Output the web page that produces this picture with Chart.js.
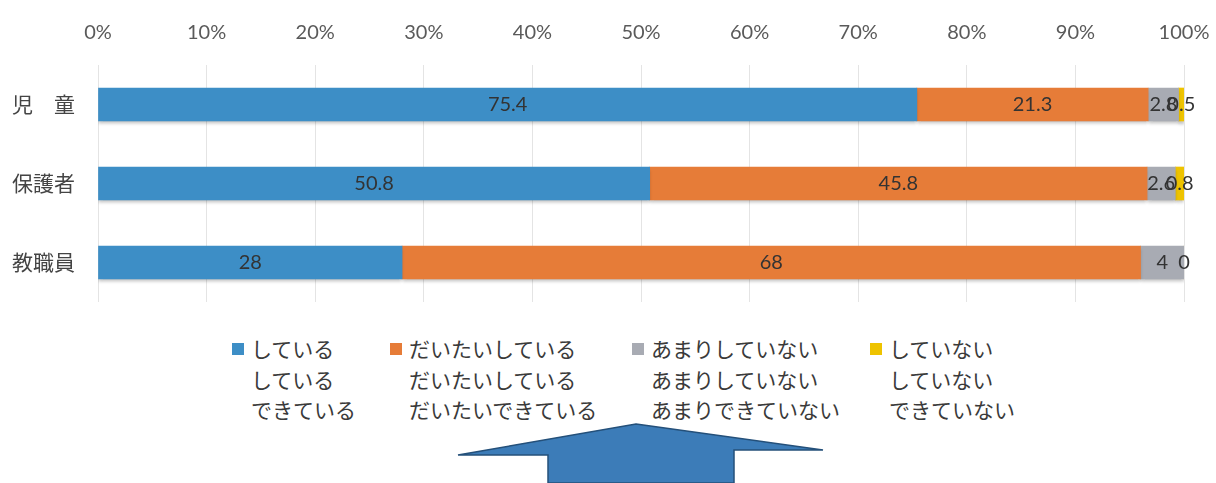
<!DOCTYPE html>
<html lang="ja">
<head>
<meta charset="utf-8">
<script src="https://cdn.jsdelivr.net/npm/chart.js@4/dist/chart.umd.min.js"></script>
<style>
  body { margin: 0; background: #fff; }
  #wrap { position: relative; width: 1216px; height: 483px; overflow: hidden; font-family: "Noto Sans CJK JP", sans-serif; }
  #chartBox { position: absolute; left: 0; top: 0; width: 1216px; height: 320px; }
  .leg { position: absolute; top: 333px; font-size: 21px; line-height: 30.5px; color: #3a3a3a; }
  .leg .sq { position: absolute; left: 0; top: 10px; width: 12px; height: 12px; }
  .leg .txt { margin-left: 19px; white-space: nowrap; }
  #arrow { position: absolute; left: 0; top: 0; }
</style>
</head>
<body>
<div id="wrap">
  <div id="chartBox"><canvas id="answerChart"></canvas></div>
  <div id="legend"></div>
  <svg id="arrow" width="1216" height="483">
    <polygon points="636,424 823,450 734,450 734,483 548,483 548,455 458,455" fill="#3c7cb8" stroke="#24507a" stroke-width="1.5"/>
  </svg>
</div>
<script>
// groups and answers
const groups = ['児　童', '保護者', '教職員'];
const answerNames = ['している', 'だいたいしている', 'あまりしていない', 'していない'];
const legendLines = [
    ['している', 'している', 'できている'],
    ['だいたいしている', 'だいたいしている', 'だいたいできている'],
    ['あまりしていない', 'あまりしていない', 'あまりできていない'],
    ['していない', 'していない', 'できていない']
];
const answerColors = ['#3d8ec6', '#e67c38', '#a8abb3', '#eec300'];

// percentages per answer, in group order
const doing = [75.4, 50.8, 28];
const mostlyDoing = [21.3, 45.8, 68];
const rarelyDoing = [2.8, 2.6, 4];
const notDoing = [0.5, 0.8, 0];
const seriesValues = [doing, mostlyDoing, rarelyDoing, notDoing];

const tickValues = [0, 10, 20, 30, 40, 50, 60, 70, 80, 90, 100];

const FONT = '"Noto Sans CJK JP", sans-serif';
const NUM_FONT = 'Lato, "Noto Sans", sans-serif';

// shadow under the bars like the printed chart
const barShadow = {
    id: 'barShadow',
    beforeDatasetsDraw(chart) {
        const c = chart.ctx;
        c.save();
        c.shadowColor = 'rgba(0,0,0,0.22)';
        c.shadowOffsetY = 3;
        c.shadowBlur = 3;
    },
    afterDatasetsDraw(chart) {
        chart.ctx.restore();
    }
};

// values written in the middle of each segment
const segmentLabels = {
    id: 'segmentLabels',
    afterDatasetsDraw(chart) {
        const c = chart.ctx;
        c.save();
        c.font = '20px ' + NUM_FONT;
        c.fillStyle = '#333';
        c.textAlign = 'center';
        c.textBaseline = 'middle';
        chart.data.datasets.forEach((ds, i) => {
            chart.getDatasetMeta(i).data.forEach((bar, j) => {
                const v = ds.data[j];
                const cx = (bar.x + bar.base) / 2;
                c.fillText(String(v), cx, bar.y);
            });
        });
        c.restore();
    }
};

document.addEventListener('DOMContentLoaded', function() {
    const ctx = document.getElementById('answerChart').getContext('2d');

    new Chart(ctx, {
        type: 'bar',
        data: {
            labels: groups,
            datasets: seriesValues.map((vals, i) => ({
                label: answerNames[i],
                data: vals,
                backgroundColor: answerColors[i],
                borderWidth: 0,
                barThickness: 33
            }))
        },
        options: {
            indexAxis: 'y',
            responsive: true,
            maintainAspectRatio: false,
            animation: false,
            layout: { padding: { left: 0, right: 32, top: 0, bottom: 18 } },
            plugins: {
                legend: { display: false },
                tooltip: { enabled: false }
            },
            scales: {
                x: {
                    position: 'top',
                    stacked: true,
                    min: 0,
                    max: 100,
                    afterBuildTicks: function(scale) {
                        scale.ticks = tickValues.map(v => ({ value: v }));
                    },
                    afterFit: function(scale) {
                        scale.height = 65;
                    },
                    ticks: {
                        padding: 0,
                        color: '#5a5a5a',
                        font: { family: NUM_FONT, size: 20 },
                        callback: function(value) {
                            return value + '%';
                        }
                    },
                    grid: {
                        color: '#e4e4e4',
                        lineWidth: 1,
                        tickLength: 20,
                        tickColor: 'rgba(0,0,0,0)'
                    },
                    border: { display: false }
                },
                y: {
                    stacked: true,
                    afterFit: function(scale) {
                        scale.width = 98;
                    },
                    ticks: {
                        padding: 0,
                        color: '#444',
                        font: { family: FONT, size: 21 }
                    },
                    grid: {
                        display: false,
                        tickLength: 23
                    },
                    border: { display: false }
                }
            }
        },
        plugins: [barShadow, segmentLabels]
    });

    // legend with three line captions
    const legendLeft = [232, 390, 632, 870];
    document.getElementById('legend').innerHTML = legendLines.map((lines, i) => `
        <div class="leg" style="left:${legendLeft[i]}px">
            <span class="sq" style="background:${answerColors[i]}"></span>
            ${lines.map(t => `<div class="txt">${t}</div>`).join('')}
        </div>
    `).join('');
});
</script>
</body>
</html>
